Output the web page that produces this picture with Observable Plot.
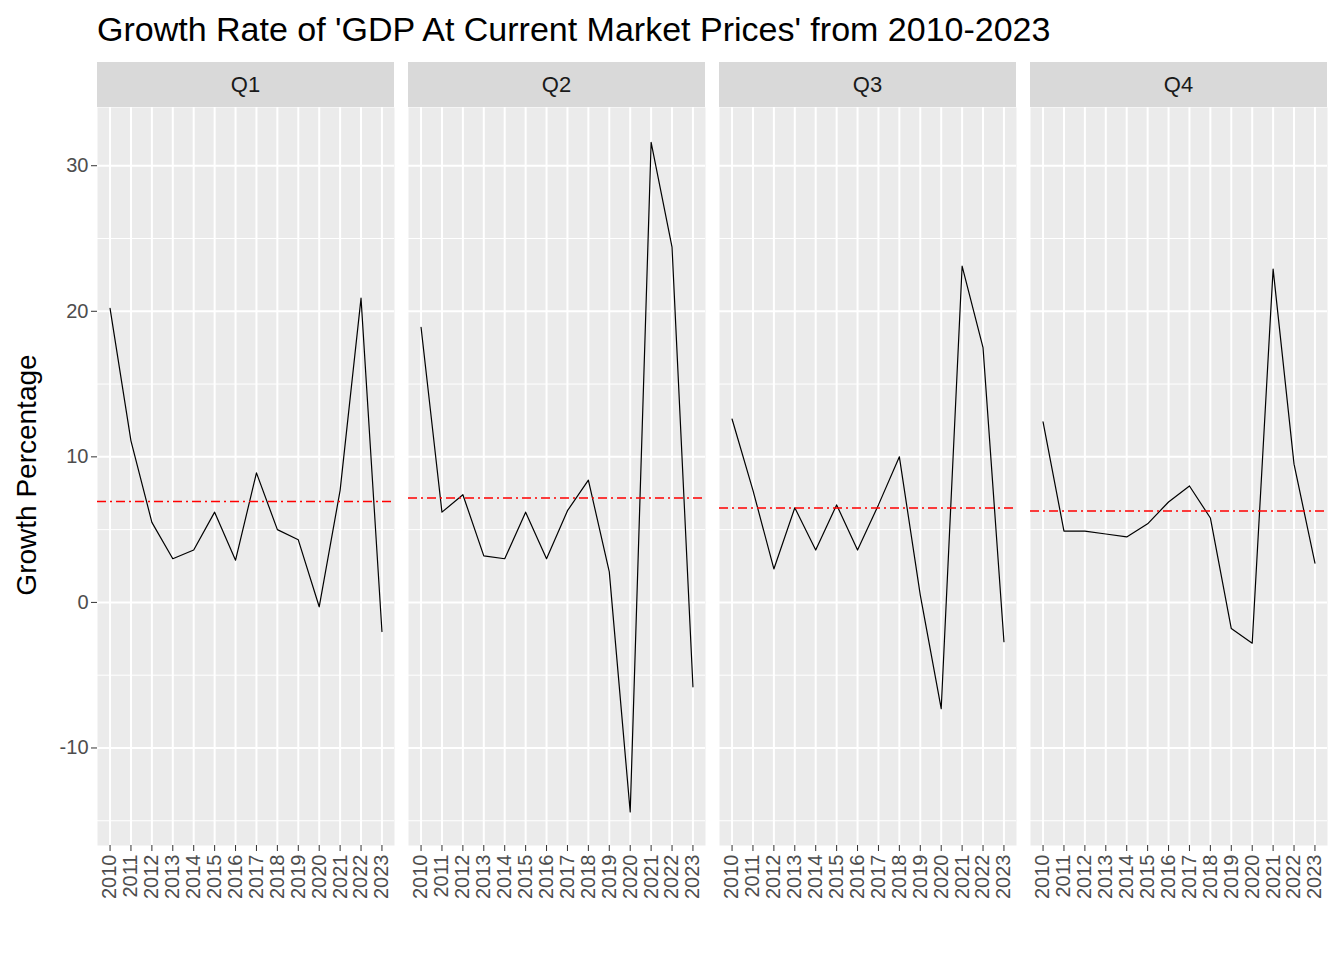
<!DOCTYPE html>
<html><head><meta charset="utf-8">
<script src="https://cdn.jsdelivr.net/npm/d3@7"></script>
<script src="https://cdn.jsdelivr.net/npm/@observablehq/plot@0.6"></script>
<style>
body{margin:0;background:#fff;font-family:"Liberation Sans",Arial,sans-serif;}
#title{height:55px;font-size:34px;padding-left:97px;line-height:58px;color:#000;}
</style></head><body>
<div id="title">Growth Rate of 'GDP At Current Market Prices' from 2010-2023</div>
<div id="chart"></div>
<script>
const years = d3.range(2010, 2024);
const quarters = ["Q1", "Q2", "Q3", "Q4"];
const q1 = [20.2, 11.1, 5.5, 3.0, 3.6, 6.2, 2.9, 8.9, 5.0, 4.3, -0.3, 7.7, 20.9, -2.0];
const q2 = [18.9, 6.2, 7.4, 3.2, 3.0, 6.2, 3.0, 6.3, 8.4, 2.1, -14.4, 31.6, 24.4, -5.8];
const q3 = [12.6, 7.7, 2.3, 6.5, 3.6, 6.7, 3.6, 6.7, 10.0, 0.5, -7.3, 23.1, 17.5, -2.7];
const q4 = [12.4, 4.9, 4.9, 4.7, 4.5, 5.4, 6.9, 8.0, 5.8, -1.8, -2.8, 22.9, 9.5, 2.7];

const series = [q1, q2, q3, q4];
const rows = series.flatMap((vals, i) =>
  vals.map((v, j) => ({quarter: quarters[i], year: years[j], growth: v})));
const means = quarters.map((q, i) => ({quarter: q, mean: d3.mean(series[i])}));

const chart = Plot.plot({
  width: 1344,
  height: 880,
  marginTop: 52,
  marginLeft: 97,
  marginRight: 16,
  marginBottom: 90,
  style: {fontFamily: "Liberation Sans, Arial, sans-serif", fontSize: "20px", color: "#4D4D4D"},
  fx: {domain: quarters, padding: 0.045, axis: null},
  x: {domain: [2009.4, 2023.6], label: null},
  y: {domain: [-16.7, 34], label: null},
  marks: [
    Plot.frame({fill: "#EBEBEB", stroke: null}),
    Plot.gridY([-15, -5, 5, 15, 25], {stroke: "#fff", strokeOpacity: 1, strokeWidth: 1}),
    Plot.gridY([-10, 0, 10, 20, 30], {stroke: "#fff", strokeOpacity: 1, strokeWidth: 2}),
    Plot.gridX(years, {stroke: "#fff", strokeOpacity: 1, strokeWidth: 2}),
    Plot.axisX({ticks: years, tickFormat: d => String(d), tickRotate: -90, fontSize: 20, fill: "#4D4D4D", stroke: "#333", label: null}),
    Plot.axisY({ticks: [-10, 0, 10, 20, 30], tickFormat: d => String(d), fontSize: 20, fill: "#4D4D4D", stroke: "#333", label: null}),
    Plot.line(rows, {fx: "quarter", x: "year", y: "growth", stroke: "#000", strokeWidth: 1.2}),
    Plot.ruleY(means, {fx: "quarter", y: "mean", stroke: "red", strokeWidth: 1.5, strokeDasharray: "9,4,2,4"})
  ]
});

// facet strips
const fx = chart.scale("fx");
const svg = d3.select(chart);
const bw = fx.bandwidth;
quarters.forEach(q => {
  const x0 = fx.apply(q);
  svg.append("rect").attr("x", x0).attr("y", 7).attr("width", bw).attr("height", 45).attr("fill", "#D9D9D9");
  svg.append("text").attr("x", x0 + bw / 2).attr("y", 31).attr("text-anchor", "middle")
    .attr("dominant-baseline", "middle").attr("font-size", 22).attr("fill", "#1A1A1A").text(q);
});
svg.append("text").attr("transform", "translate(36,420) rotate(-90)").attr("text-anchor", "middle")
  .attr("font-size", 28).attr("fill", "#000").text("Growth Percentage");

document.getElementById("chart").appendChild(chart);
</script>
</body></html>
